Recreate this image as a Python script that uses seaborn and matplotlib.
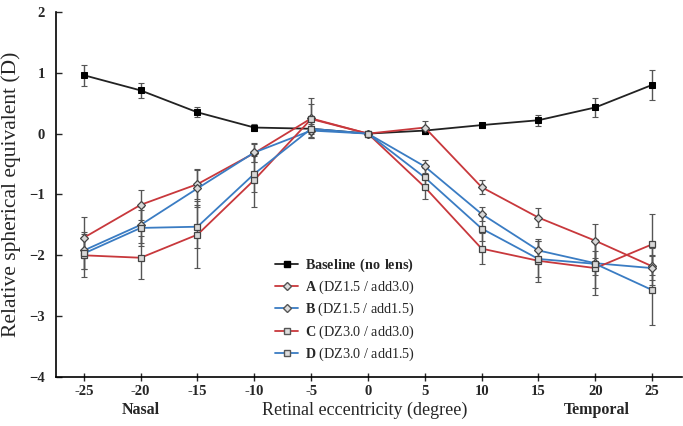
import matplotlib
matplotlib.use('Agg')
import numpy as np
import pandas as pd
import matplotlib.pyplot as plt
import seaborn as sns

ecc = [-25, -20, -15, -10, -5, 0, 5, 10, 15, 20, 25]

base = [0.96, 0.71, 0.35, 0.10, 0.08, 0.0, 0.05, 0.14, 0.22, 0.43, 0.80]
base_err = [0.17, 0.13, 0.08, 0.05, 0.05, 0.0, 0.05, 0.04, 0.09, 0.16, 0.25]

a_vals = [-1.71, -1.17, -0.83, -0.32, 0.25, 0.0, 0.10, -0.88, -1.38, -1.76, -2.18]
a_err = [0.34, 0.25, 0.25, 0.15, 0.33, 0.0, 0.10, 0.11, 0.15, 0.28, 0.30]

b_vals = [-1.92, -1.50, -0.90, -0.31, 0.05, 0.0, -0.54, -1.32, -1.92, -2.13, -2.21]
b_err = [0.30, 0.30, 0.30, 0.15, 0.10, 0.0, 0.10, 0.12, 0.15, 0.20, 0.20]

c_vals = [-2.00, -2.04, -1.66, -0.76, 0.24, 0.0, -0.88, -1.89, -2.09, -2.21, -1.82]
c_err = [0.35, 0.35, 0.55, 0.45, 0.25, 0.0, 0.20, 0.25, 0.35, 0.45, 0.50]

d_vals = [-1.97, -1.55, -1.53, -0.66, 0.08, 0.0, -0.72, -1.56, -2.06, -2.14, -2.57]
d_err = [0.25, 0.30, 0.35, 0.30, 0.15, 0.0, 0.15, 0.20, 0.30, 0.40, 0.57]

names = ["Baseline", "A", "B", "C", "D"]
labels = [r"$\mathbf{Baseline\ (no\ lens)}$",
          r"$\mathbf{A}$ (DZ1.5 / add3.0)",
          r"$\mathbf{B}$ (DZ1.5 / add1.5)",
          r"$\mathbf{C}$ (DZ3.0 / add3.0)",
          r"$\mathbf{D}$ (DZ3.0 / add1.5)"]
series = [base, a_vals, b_vals, c_vals, d_vals]
errors = [base_err, a_err, b_err, c_err, d_err]

colors = {"Baseline": "#222222", "A": "#c8383c", "B": "#3a7cc3",
          "C": "#c8383c", "D": "#3a7cc3"}
markers = {"Baseline": "s", "A": "D", "B": "D", "C": "s", "D": "s"}

rows = []
for n, vals in zip(names, series):
    for x, v in zip(ecc, vals):
        rows.append({"ecc": x, "val": v, "group": n})
df = pd.DataFrame(rows)

sns.set_style("ticks")
plt.rcParams['font.family'] = ['Liberation Serif', 'DejaVu Serif']
plt.rcParams['mathtext.fontset'] = 'custom'
plt.rcParams['mathtext.rm'] = 'Liberation Serif'
plt.rcParams['mathtext.bf'] = 'Liberation Serif:bold'

fig = plt.figure(figsize=(6.83, 4.26), dpi=100)
ax = fig.add_axes([0.082, 0.115, 0.916, 0.857])

for n, vals, err in zip(names, series, errors):
    ax.errorbar(ecc, vals, yerr=err, fmt='none', ecolor='#555555',
                elinewidth=1.0, capsize=2, capthick=0.8, zorder=1)

sns.lineplot(data=df, x="ecc", y="val", hue="group", style="group",
             palette=colors, markers=markers, dashes=False, ax=ax,
             linewidth=1.3, markersize=4, legend=False, zorder=3)

for line, n in zip(ax.get_lines()[-5:], names):
    if n == "Baseline":
        line.set_markerfacecolor("black")
        line.set_markeredgecolor("black")
        line.set_markersize(4.2)
    else:
        line.set_markerfacecolor("#d8d8d8")
        line.set_markeredgecolor("#444444")
        line.set_markeredgewidth(0.9)
        line.set_markersize(4 if markers[n] == "D" else 4.5)

handles = []
for n, lab in zip(names, labels):
    h, = ax.plot([], [], color=colors[n], marker=markers[n], lw=1.3,
                 markersize=3.8 if n == "Baseline" else 4,
                 markerfacecolor="black" if n == "Baseline" else "#dddddd",
                 markeredgecolor="black" if n == "Baseline" else "#555555")
    handles.append(h)
ax.legend(handles, labels, frameon=False, loc="upper left",
          bbox_to_anchor=(0.33, 0.365), fontsize=10.2, handlelength=1.6,
          handletextpad=0.5, labelspacing=0.35)

ax.set_xlim(-27.45, 27.6)
ax.set_ylim(-4, 2)
ax.set_xticks(ecc)
ax.set_xticklabels([str(x) for x in ecc])
ax.set_yticks([-4, -3, -2, -1, 0, 1, 2])
ax.tick_params(axis='x', direction='inout', length=6, width=1.0, labelsize=10.5, pad=3)
ax.tick_params(axis='y', direction='in', length=4, width=1.0, labelsize=10.5, pad=8)
for t in ax.get_xticklabels() + ax.get_yticklabels():
    t.set_fontweight('bold')
ax.set_xlabel("")
ax.set_ylabel("Relative spherical equivalent (D)", fontsize=15.5, labelpad=6)
for s in ["left", "bottom"]:
    ax.spines[s].set_linewidth(1.2)
    ax.spines[s].set_color("black")
sns.despine(ax=ax)

fig.text(365 / 683, 1 - 410 / 426, "Retinal eccentricity (degree)",
         ha="center", va="center", fontsize=13)
fig.text(141 / 683, 1 - 410 / 426, "Nasal", ha="center", va="center",
         fontsize=11.5, fontweight="bold")
fig.text(597 / 683, 1 - 410 / 426, "Temporal", ha="center", va="center",
         fontsize=11.5, fontweight="bold")

fig.savefig("out.png", dpi=100)
